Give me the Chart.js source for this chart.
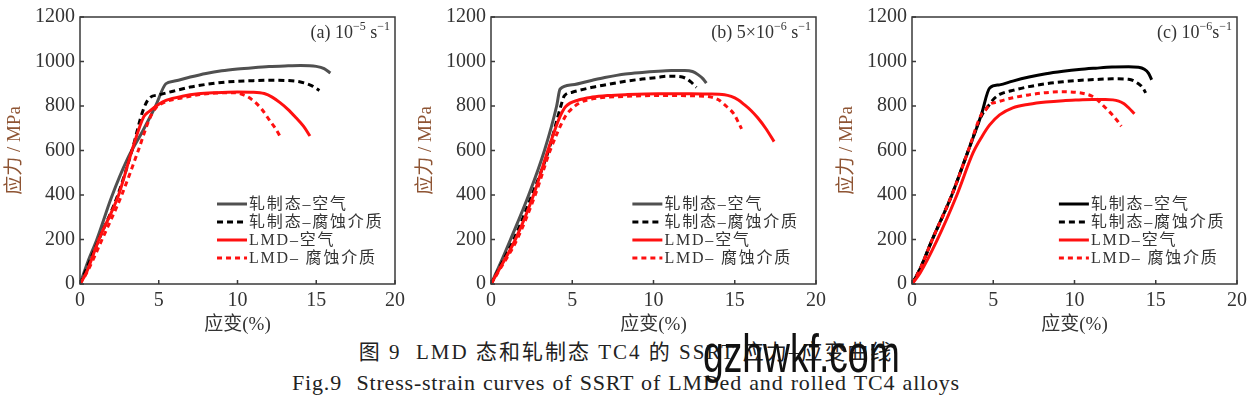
<!DOCTYPE html>
<html>
<head>
<meta charset="utf-8">
<script src="https://cdn.jsdelivr.net/npm/chart.js@4.4.1/dist/chart.umd.min.js"></script>
<style>
  body { margin: 0; background: #fff; width: 1252px; height: 399px; overflow: hidden; position: relative; }
  canvas { position: absolute; top: 0; }
  .cap { position: absolute; left: 0; width: 1252px; text-align: center; color: #222;
         font-family: 'Liberation Serif', 'Noto Sans CJK SC', serif; line-height: 24px; white-space: nowrap; }
  #wm { position: absolute; left: 703px; top: 326px; font-family: 'Liberation Sans', sans-serif;
        font-size: 54px; line-height: 54px; color: #111; transform: scaleX(0.69); transform-origin: left top; }
</style>
</head>
<body>
<canvas id="chartA" width="410" height="340" style="left:0px"></canvas>
<canvas id="chartB" width="420" height="340" style="left:411px"></canvas>
<canvas id="chartC" width="420" height="340" style="left:832px"></canvas>
<div class="cap" style="top:340px;font-size:21px;letter-spacing:2px">图 9&nbsp; LMD 态和轧制态 TC4 的 SSRT 应力–应变曲线</div>
<div class="cap" style="top:371px;font-size:22px;letter-spacing:0.8px;word-spacing:1px">Fig.9&nbsp; Stress-strain curves of SSRT of LMDed and rolled TC4 alloys</div>
<div id="wm">gzhwkf.com</div>
<script>
// tick labels and legend names
var xTicks = [0, 5, 10, 15, 20];
var yTicks = [0, 200, 400, 600, 800, 1000, 1200];
var seriesNames = ['轧制态–空气', '轧制态–腐蚀介质', 'LMD–空气', 'LMD– 腐蚀介质'];

// (a) 10^-5 s^-1   [strain %, stress MPa]
var rolledAirA = [[0,0],[0.5,100],[1.07,200],[2.0,390],[3.0,560],[4.0,690],[4.8,800],[5.45,900],[6,912],[7,930],[8,946],[9,958],[10,966],[11,972],[12,977],[13,980],[14,982],[15,978],[15.5,968],[15.9,948]];
var rolledCorrA = [[0,0],[1.2,200],[2.4,400],[3.3,600],[4.0,780],[4.4,835],[5,850],[6,868],[7,885],[8,897],[9,906],[10,911],[11,914],[12,916],[13,915],[14,908],[14.7,892],[15.2,870]];
var lmdAirA = [[0,0],[0.4,50],[1.2,200],[2.45,400],[3.3,600],[4.05,752],[4.4,776],[5,808],[5.5,826],[6.5,844],[7.5,855],[8.6,860],[10,863],[11,862],[11.7,856],[12.2,840],[12.7,815],[13.2,785],[13.7,748],[14.2,708],[14.6,665]];
var lmdCorrA = [[0,0],[0.5,60],[1.4,200],[2.65,400],[3.7,600],[4.4,740],[4.8,790],[5.45,819],[6.5,837],[7.5,850],[8.6,858],[9.8,860],[10.3,852],[10.66,841],[11.1,818],[11.5,789],[12.1,729],[12.4,700],[12.74,659]];

// (b) 5x10^-6 s^-1
var rolledAirB = [[0,0],[0.5,80],[1.2,200],[2.32,400],[3.29,600],[4.04,800],[4.25,876],[5,895],[6.24,916],[7,928],[8.27,944],[9.3,951],[10.3,956],[11.1,959],[11.93,960],[12.4,955],[12.74,941],[13.05,922],[13.25,903]];
var rolledCorrB = [[0,0],[0.5,70],[1.4,200],[2.52,400],[3.54,600],[4.3,800],[4.51,845],[5,862],[6.24,884],[7.2,897],[8.27,911],[9.3,921],[10.3,929],[10.8,934],[11.5,933],[12,924],[12.3,908],[12.64,884]];
var lmdAirB = [[0,0],[0.5,65],[1.5,200],[2.62,400],[3.5,600],[4.25,753],[4.6,798],[5.43,828],[6.24,840],[7.2,847],[8.27,851],[10.3,855],[12.3,855],[13.35,854],[14.37,851],[14.78,843],[15.2,828],[15.59,806],[16.0,780],[16.4,748],[16.9,700],[17.42,640]];
var lmdCorrB = [[0,0],[0.5,60],[1.6,200],[2.72,400],[3.64,600],[4.51,745],[4.8,775],[5.43,813],[6.24,832],[8.27,843],[10.3,847],[12.34,846],[13.55,840],[14.0,828],[14.37,806],[14.7,785],[14.98,761],[15.2,730],[15.42,697]];

// (c) 10^-6 s^-1
var rolledAirC = [[0,0],[0.51,70],[1.22,195],[2.44,398],[3.46,599],[4.27,762],[4.78,881],[5.39,895],[6.2,912],[7.2,930],[8.24,945],[9.3,956],[10.27,964],[11.3,970],[12.31,975],[13.33,976],[13.94,974],[14.3,965],[14.55,948],[14.75,918]];
var rolledCorrC = [[0,0],[0.51,70],[1.22,195],[2.44,398],[3.46,599],[4.27,755],[4.7,800],[5.09,836],[5.39,852],[6.2,870],[7.2,887],[8.24,900],[9.3,909],[10.27,915],[11.3,919],[12.31,922],[13.33,920],[13.94,900],[14.2,882],[14.38,859]];
var lmdAirC = [[0,0],[0.5,50],[1.53,195],[2.75,398],[3.76,590],[4.3,662],[4.78,715],[5.39,760],[6.2,792],[7.2,808],[8.24,818],[9.3,824],[10.27,827],[11.1,829],[11.9,829],[12.72,822],[13.05,810],[13.33,792],[13.69,765]];
var lmdCorrC = [[0,0],[0.51,70],[1.22,195],[2.44,398],[3.46,599],[4.27,762],[4.47,776],[4.78,807],[5.19,817],[6.2,837],[7.2,850],[8.24,860],[9.26,864],[10.27,860],[10.7,854],[11.09,844],[11.4,828],[11.7,807],[12.0,785],[12.31,762],[12.6,737],[12.88,709]];

var serif = "'Liberation Serif', 'Noto Sans CJK SC', serif";

function pts(arr) {
    return arr.map(function (p) { return {x: p[0], y: p[1]}; });
}

// frame, inward ticks, legend and rate label
var panelDeco = {
    id: 'panelDeco',
    afterDraw: function (chart) {
        var ctx = chart.ctx, a = chart.chartArea;
        var xs = chart.scales.x, ys = chart.scales.y;
        var o = chart.options.plugins.panelDeco;
        ctx.save();
        ctx.strokeStyle = '#3a3a3a';
        ctx.lineWidth = 1.5;
        ctx.strokeRect(a.left, a.top, a.right - a.left, a.bottom - a.top);
        ctx.beginPath();
        xTicks.forEach(function (v) {
            var px = xs.getPixelForValue(v);
            ctx.moveTo(px, a.bottom); ctx.lineTo(px, a.bottom - 4);
        });
        yTicks.forEach(function (v) {
            var py = ys.getPixelForValue(v);
            ctx.moveTo(a.left, py); ctx.lineTo(a.left + 4, py);
        });
        ctx.stroke();

        // legend
        var w = a.right - a.left;
        var lx = a.left + o.legendX * w;
        ctx.font = '16px ' + serif;
        ctx.textBaseline = 'middle';
        ctx.letterSpacing = '1.8px';
        chart.data.datasets.forEach(function (ds, i) {
            var ly = a.bottom - 80 + i * 18;
            ctx.strokeStyle = ds.borderColor;
            ctx.lineWidth = 3;
            ctx.setLineDash(ds.borderDash || []);
            ctx.beginPath();
            ctx.moveTo(lx, ly); ctx.lineTo(lx + 30, ly);
            ctx.stroke();
            ctx.setLineDash([]);
            ctx.fillStyle = '#333';
            ctx.fillText(ds.label, lx + 32, ly + 1);
        });
        ctx.letterSpacing = '0px';

        // rate label, e.g. (a) 10^-5 s^-1
        var parts = o.rate;
        var widths = parts.map(function (p) {
            ctx.font = (p.sup ? '12px ' : '18px ') + serif;
            return ctx.measureText(p.t).width;
        });
        var total = widths.reduce(function (s, v) { return s + v; }, 0);
        var x = a.right - 5 - total;
        ctx.textBaseline = 'alphabetic';
        ctx.fillStyle = '#333';
        parts.forEach(function (p, i) {
            ctx.font = (p.sup ? '12px ' : '18px ') + serif;
            ctx.fillText(p.t, x, p.sup ? 30 : 38);
            x += widths[i];
        });
        ctx.restore();
    }
};

function makeChart(id, sets, blackColor, rate, legendX) {
    var data = {
        datasets: [
            {label: seriesNames[0], data: pts(sets[0]), borderColor: blackColor, borderWidth: 3, order: 4},
            {label: seriesNames[1], data: pts(sets[1]), borderColor: '#000', borderDash: [6, 4], borderWidth: 3, order: 3},
            {label: seriesNames[2], data: pts(sets[2]), borderColor: '#ff1010', borderWidth: 3, order: 2},
            {label: seriesNames[3], data: pts(sets[3]), borderColor: '#ff1010', borderDash: [5, 4], borderWidth: 3, order: 1}
        ]
    };
    return new Chart(document.getElementById(id), {
        type: 'scatter',
        data: data,
        options: {
            responsive: false,
            animation: false,
            showLine: true,
            layout: {padding: {top: 16, right: 12, left: 0, bottom: 0}},
            elements: {point: {radius: 0}, line: {cubicInterpolationMode: 'monotone', fill: false}},
            plugins: {
                legend: {display: false},
                tooltip: {enabled: false},
                panelDeco: {rate: rate, legendX: legendX}
            },
            scales: {
                x: {
                    type: 'linear', min: 0, max: 20,
                    afterBuildTicks: function (s) { s.ticks = xTicks.map(function (v) { return {value: v}; }); },
                    afterFit: function (s) { s.height = 56; },
                    grid: {display: false, drawTicks: false},
                    border: {display: false},
                    ticks: {font: {family: serif, size: 20}, color: '#333', padding: 5, maxRotation: 0,
                            callback: function (v) { return String(v); }},
                    title: {display: true, text: '应变(%)', color: '#333', font: {family: serif, size: 19}, padding: {top: 0, bottom: 4}}
                },
                y: {
                    type: 'linear', min: 0, max: 1200,
                    afterBuildTicks: function (s) { s.ticks = yTicks.map(function (v) { return {value: v}; }); },
                    afterFit: function (s) { s.width = 80; },
                    grid: {display: false, drawTicks: false},
                    border: {display: false},
                    ticks: {font: {family: serif, size: 20}, color: '#333', padding: 5,
                            callback: function (v) { return String(v); }},
                    title: {display: true, text: '应力 / MPa', color: '#8e5433', font: {family: serif, size: 19}, padding: {top: 4, bottom: 0}}
                }
            }
        },
        plugins: [panelDeco]
    });
}

makeChart('chartA', [rolledAirA, rolledCorrA, lmdAirA, lmdCorrA], '#505050',
    [{t: '(a) 10'}, {t: '−5', sup: true}, {t: ' s'}, {t: '−1', sup: true}], 0.435);
makeChart('chartB', [rolledAirB, rolledCorrB, lmdAirB, lmdCorrB], '#505050',
    [{t: '(b) 5×10'}, {t: '−6', sup: true}, {t: ' s'}, {t: '−1', sup: true}], 0.435);
makeChart('chartC', [rolledAirC, rolledCorrC, lmdAirC, lmdCorrC], '#000',
    [{t: '(c) 10'}, {t: '−6', sup: true}, {t: 's'}, {t: '−1', sup: true}], 0.452);
</script>
</body>
</html>
